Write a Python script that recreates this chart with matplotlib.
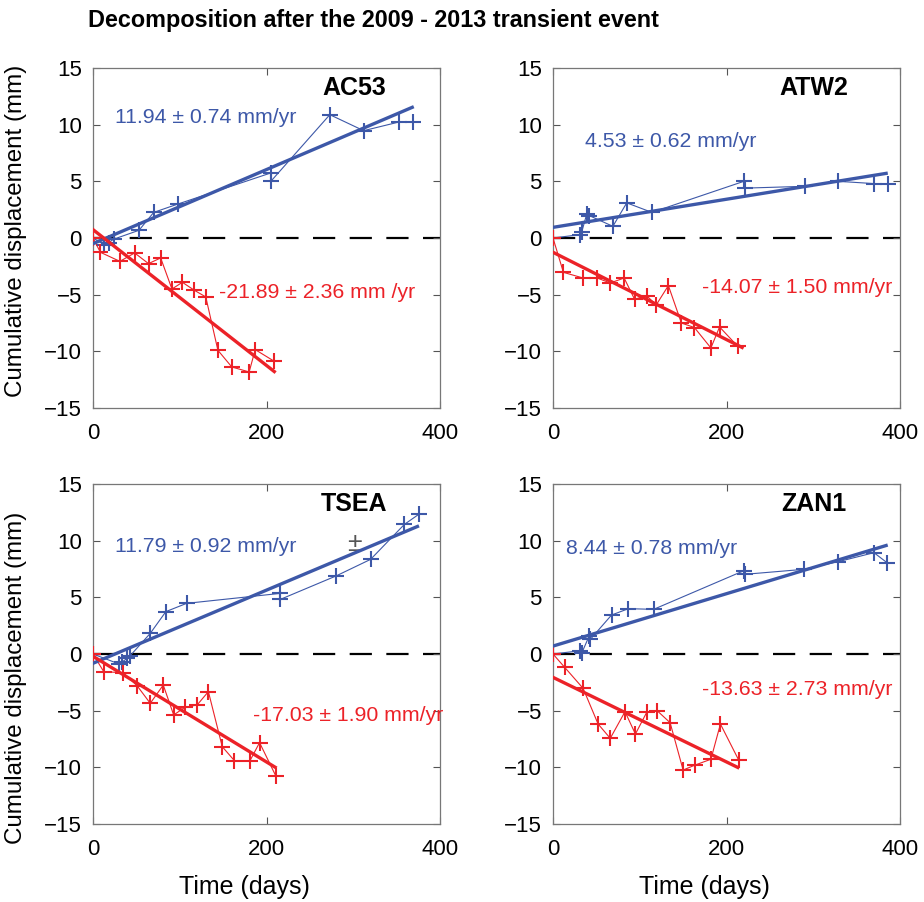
import numpy as np
import matplotlib.pyplot as plt

plt.switch_backend('Agg')
plt.rcParams['font.family'] = ['Liberation Sans', 'DejaVu Sans']

BLUE = '#3d58a8'
RED = '#ec2228'

stations = ['AC53', 'ATW2', 'TSEA', 'ZAN1']

# time (days) and cumulative displacement (mm)
ac53_blue_t = [0, 13, 18, 24, 53, 70, 98, 205, 205, 273, 312, 353, 369]
ac53_blue_d = [0.0, -0.6, -0.4, -0.1, 0.68, 2.26, 3.0, 5.74, 5.0, 10.88, 9.47, 10.24, 10.24]
ac53_red_t = [0, 8.5, 31, 48, 64, 78, 91, 103, 117, 130, 144, 160, 180, 187, 209]
ac53_red_d = [0.0, -1.26, -2.06, -1.32, -2.26, -1.76, -4.5, -3.91, -4.62, -5.2,
              -9.91, -11.38, -11.82, -9.85, -10.88]

atw2_blue_t = [0, 31.5, 33, 39, 42, 69, 85, 114, 220, 221, 290, 329, 370, 386]
atw2_blue_d = [0.0, 0.3, 0.5, 2.15, 1.97, 1.03, 3.1, 2.26, 5.0, 4.4, 4.56, 5.0, 4.8, 4.8]
atw2_red_t = [0, 12, 34.6, 51, 66, 82, 94, 108, 119, 133, 148, 163, 182, 192, 213]
atw2_red_d = [0.0, -3.03, -3.53, -3.53, -3.97, -3.53, -5.4, -5.1, -5.9, -4.2,
              -7.5, -7.9, -9.7, -7.85, -9.56]

tsea_blue_t = [0, 30, 34, 39.4, 42.5, 66, 84, 108, 216, 216, 280, 320, 359, 376]
tsea_blue_d = [0.0, -0.88, -0.68, -0.38, -0.18, 1.82, 3.74, 4.47, 5.35, 4.82,
               6.88, 8.35, 11.44, 12.35]
tsea_red_t = [0, 12.4, 34.7, 51, 66, 81, 93, 106, 120, 133, 149, 163, 181, 192, 211]
tsea_red_d = [0.0, -1.56, -1.65, -2.82, -4.35, -2.74, -5.38, -4.7, -4.5, -3.32,
              -8.18, -9.41, -9.41, -7.82, -10.8]

zan1_blue_t = [0, 31.6, 33, 41.7, 43, 67.5, 87, 116, 220, 221, 289, 329, 370, 385]
zan1_blue_d = [0.0, 0.29, 0.06, 1.59, 1.29, 3.44, 4.0, 3.94, 7.35, 7.03, 7.47, 8.15, 8.94, 8.06]
zan1_red_t = [0, 13.5, 34.7, 52, 66, 83, 95, 108, 120, 135, 150, 164, 182, 193, 214]
zan1_red_d = [0.0, -1.18, -3.03, -6.18, -7.44, -5.09, -7.06, -5.15, -5.0, -6.06,
              -10.24, -9.79, -9.29, -6.18, -9.35]

# linear trends: rate (mm/yr), intercept (mm), end of fit (days)
blue_rate = [11.94, 4.53, 11.79, 8.44]
blue_err = [0.74, 0.62, 0.92, 0.78]
blue_icpt = [-0.5, 0.94, -0.82, 0.7]
blue_end = [368, 384, 374, 384]
red_rate = [-21.89, -14.07, -17.03, -13.63]
red_err = [2.36, 1.50, 1.90, 2.73]
red_icpt = [0.74, -1.26, -0.2, -2.06]
red_end = [209, 218, 210, 213]
red_unit = ['mm /yr', 'mm/yr', 'mm/yr', 'mm/yr']

blue_t = [ac53_blue_t, atw2_blue_t, tsea_blue_t, zan1_blue_t]
blue_d = [ac53_blue_d, atw2_blue_d, tsea_blue_d, zan1_blue_d]
red_t = [ac53_red_t, atw2_red_t, tsea_red_t, zan1_red_t]
red_d = [ac53_red_d, atw2_red_d, tsea_red_d, zan1_red_d]

# text anchor spots (days, mm)
blue_txt = [(25, 10.6), (37, 8.5), (25, 9.5), (15, 9.3)]
red_txt = [(145, -4.85), (172, -4.35), (185, -5.45), (172, -3.1)]

fig = plt.figure(figsize=(9.24, 9.02), dpi=100)
W, H = 924, 902
boxes = [(93, 68), (553, 68), (93, 484), (553, 484)]
ylab_pos = [0.52, None, 0.43, None]

for i, name in enumerate(stations):
    x0, y0 = boxes[i]
    ax = fig.add_axes([x0 / W, 1 - (y0 + 340) / H, 347 / W, 340 / H])

    ax.plot([0, 400], [0, 0], color='black', lw=1.6, dashes=(10, 6.5), zorder=1)

    ax.plot(blue_t[i], blue_d[i], color=BLUE, lw=0.8, marker='+', ms=12, mew=1.5, zorder=3)
    ax.plot(red_t[i], red_d[i], color=RED, lw=0.8, marker='+', ms=12, mew=1.5, zorder=3)

    tb = np.array([0, blue_end[i]])
    ax.plot(tb, blue_icpt[i] + blue_rate[i] / 365.25 * tb, color=BLUE, lw=2.4, zorder=4)
    tr = np.array([0, red_end[i]])
    ax.plot(tr, red_icpt[i] + red_rate[i] / 365.25 * tr, color=RED, lw=2.4, zorder=4)

    ax.text(blue_txt[i][0], blue_txt[i][1],
            f'{blue_rate[i]:.2f} \u00b1 {blue_err[i]:.2f} mm/yr',
            color=BLUE, fontsize=15.3, va='center', ha='left')
    ax.text(red_txt[i][0], red_txt[i][1],
            f'{red_rate[i]:.2f} \u00b1 {red_err[i]:.2f} {red_unit[i]}',
            color=RED, fontsize=15.3, va='center', ha='left')
    ax.text(301, 13.2, name, fontsize=18, fontweight='bold', ha='center', va='center')

    if name == 'TSEA':
        ax.text(301, 9.7, '\u00b1', color='#555555', fontsize=19, ha='center', va='center')

    ax.set_xlim(0, 400)
    ax.set_ylim(-15, 15)
    ax.set_xticks([0, 200, 400])
    ax.set_yticks([-15, -10, -5, 0, 5, 10, 15])
    ax.tick_params(axis='both', direction='in', top=True, right=True, labelsize=16,
                   length=5, width=0.8, color='#555555')
    ax.tick_params(axis='x', pad=11)
    ax.tick_params(axis='y', pad=8)
    for s in ax.spines.values():
        s.set_color('#777777')
        s.set_linewidth(0.9)

    if i % 2 == 0:
        ax.set_ylabel('Cumulative displacement (mm)', fontsize=17.4)
        ax.yaxis.set_label_coords(-0.19, ylab_pos[i])
    if i >= 2:
        ax.set_xlabel('Time (days)', fontsize=18)
        ax.xaxis.set_label_coords(0.435, -0.15)

fig.text(88 / W, 1 - 20 / H, 'Decomposition after the 2009 - 2013 transient event',
         fontsize=16.8, fontweight='bold', ha='left', va='center')

fig.savefig('out.png', dpi=100)
plt.close(fig)
